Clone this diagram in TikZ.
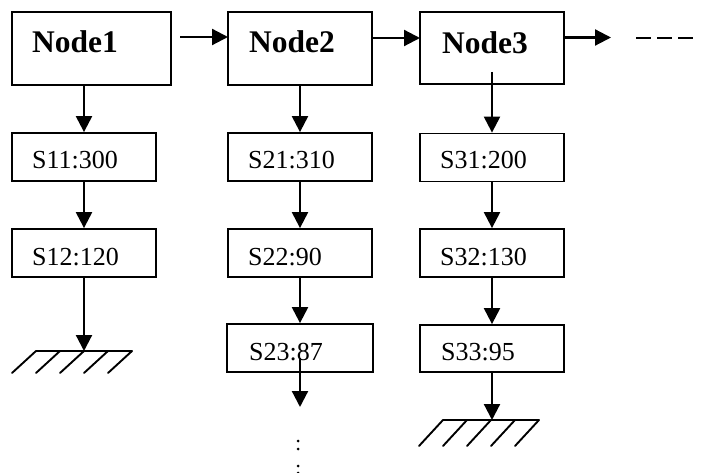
\documentclass[tikz,border=0pt]{standalone}
\usepackage{fontspec}
\setmainfont{Liberation Serif}
\usetikzlibrary{arrows.meta}
\begin{document}
\begin{tikzpicture}[x=1pt,y=-1pt,
  box/.style={draw,line width=1.8pt,inner sep=0pt,anchor=center},
  bigbox/.style={box,minimum width=#1,minimum height=73pt},
  smallbox/.style={box,minimum width=#1,minimum height=48pt},
  nodetext/.style={anchor=base west,inner sep=0pt,font=\fontsize{31.5}{36}\selectfont\bfseries},
  stext/.style={anchor=base west,inner sep=0pt,font=\fontsize{26}{30}\selectfont},
  arr/.style={line width=2.2pt,-{Triangle[length=16pt,width=16pt]}},
  gnd/.style={line width=1.9pt,line cap=round},
  dotmark/.style={fill=black,circle,inner sep=0pt,minimum size=3pt}]
\useasboundingbox (0,0) rectangle (701,473);
% top nodes
\node[bigbox=159pt] (n1) at (91.5,48.5) {};
\node[bigbox=144pt] (n2) at (300,48.5) {};
\node[bigbox=144pt,minimum height=72pt] (n3) at (492,48) {};
\node[nodetext] (n1t) at (32,53) {Node1};
\node[nodetext] (n2t) at (249,53) {Node2};
\node[nodetext] (n3t) at (442,54) {Node3};
% sub boxes
\node[smallbox=144pt] (s11) at (84,157) {};
\node[smallbox=144pt] (s12) at (84,253) {};
\node[smallbox=144pt] (s21) at (300,157) {};
\node[smallbox=144pt] (s22) at (300,253) {};
\node[smallbox=146pt] (s23) at (300,348) {};
\node[smallbox=144pt] (s31) at (492,157.5) {};
\node[smallbox=144pt] (s32) at (492,253) {};
\node[smallbox=144pt,minimum height=47pt] (s33) at (492,348.5) {};
\node[stext] (s11t) at (32,169) {S11:300};
\node[stext] (s12t) at (32,265) {S12:120};
\node[stext] (s21t) at (248,169) {S21:310};
\node[stext] (s22t) at (248,265) {S22:90};
\node[stext] (s23t) at (249,360) {S23:87};
\node[stext] (s31t) at (440,169) {S31:200};
\node[stext] (s32t) at (440,265) {S32:130};
\node[stext] (s33t) at (441,360) {S33:95};
% coordinates
\coordinate (a1s) at (180,37);
\coordinate (a1e) at (228,37);
\coordinate (a2s) at (372,38);
\coordinate (a2e) at (420,38);
\coordinate (a3s) at (564,37.5);
\coordinate (a3e) at (611,37.5);
\coordinate (d1) at (636,38);
\coordinate (d2) at (696,38);
\coordinate (n3in) at (492,72);
\coordinate (s23in) at (300,358);
\coordinate (s23e) at (300,407);
\coordinate (g1) at (84,351);
\coordinate (g2) at (492,420);
% horizontal arrows
\draw[arr] (a1s) -- (a1e);
\draw[arr] (a2s) -- (a2e);
\draw[arr] (a3s) -- (a3e);
\draw[line width=1.8pt,dash pattern=on 15pt off 6pt] (d1) -- (d2);
% column 1
\draw[arr] (s11.north |- n1.south) -- (s11.north);
\draw[arr] (s11.south) -- (s12.north);
\draw[arr] (s12.south) -- (g1);
\draw[gnd] (36,351) -- (132,351);
\foreach \x in {36,60,84,108,132} \draw[gnd] (\x,351) -- (\x-24,373);
% column 2
\draw[arr] (n2.south) -- (s21.north);
\draw[arr] (s21.south) -- (s22.north);
\draw[arr] (s22.south) -- (s23.north);
\draw[arr] (s23in) -- (s23e);
\node[dotmark] (dt1) at (298,441) {};
\node[dotmark] (dt2) at (298,449) {};
\node[dotmark] (dt3) at (298,466) {};
\node[dotmark] (dt4) at (298,473) {};
% column 3
\draw[arr] (n3in) -- (s31.north);
\draw[arr] (s31.south) -- (s32.north);
\draw[arr] (s32.south) -- (s33.north);
\draw[arr] (s33.south) -- (g2);
\draw[gnd] (443,420) -- (539,420);
\foreach \x in {443,467,491,515,539} \draw[gnd] (\x,420) -- (\x-24,446);
\end{tikzpicture}
\end{document}
